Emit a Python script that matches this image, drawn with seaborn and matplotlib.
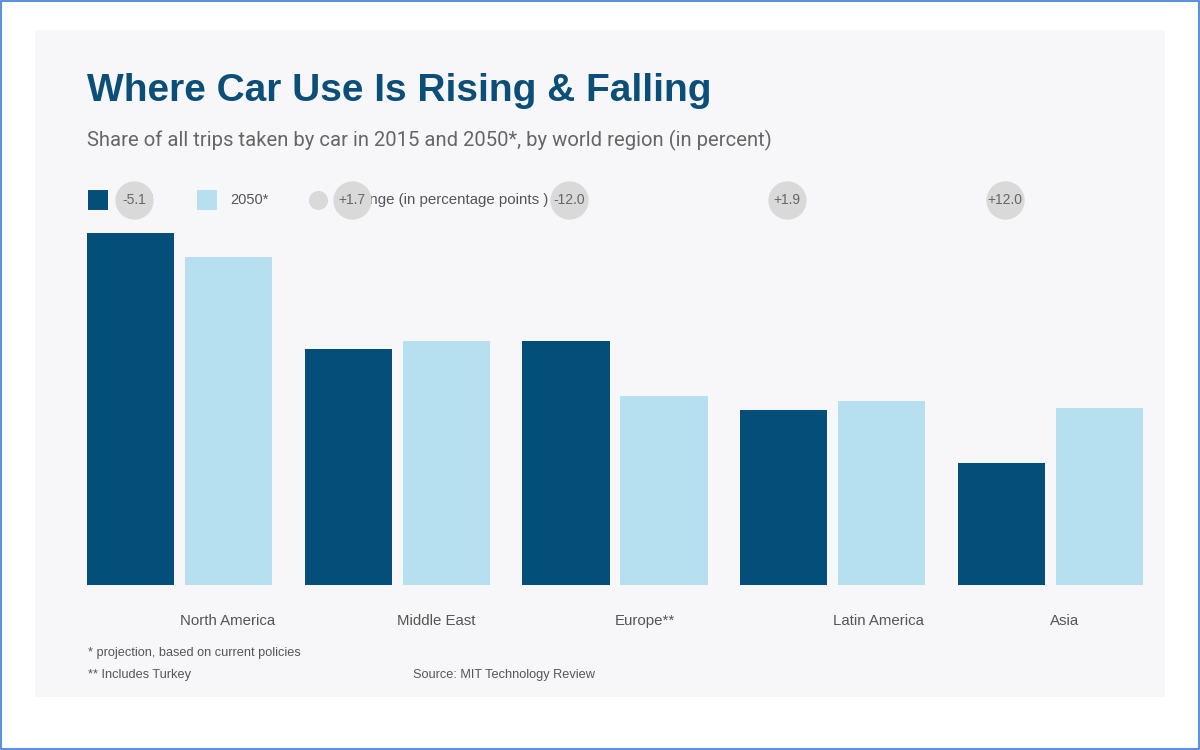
import matplotlib
matplotlib.use("Agg")
import matplotlib.pyplot as plt
from matplotlib.patches import Rectangle
import seaborn as sns
import pandas as pd

# ---- data ----
regions = ["North America", "Middle East", "Europe**", "Latin America", "Asia"]
share_2015 = [76.5, 51.3, 53.0, 38.0, 26.5]
share_2050 = [71.4, 53.0, 41.0, 39.9, 38.5]
change_labels = ["-5.1", "+1.7", "-12.0", "+1.9", "+12.0"]
years = ["2015", "2050*"]

DARK = "#044f7a"
LIGHT = "#b6dff0"
BUBBLE = "#d9d9d9"
PANEL = "#f7f7f9"

df = pd.DataFrame({
    "region": regions * 2,
    "year": [years[0]] * len(regions) + [years[1]] * len(regions),
    "share": share_2015 + share_2050,
})

sns.set_theme(style="white")
plt.rcParams["font.family"] = ["Liberation Sans", "DejaVu Sans"]

fig = plt.figure(figsize=(12, 7.5), dpi=100)
fig.patch.set_facecolor("white")
# outer border and panel
fig.patches.append(Rectangle((0.0005, 0.0008), 0.999, 0.998, transform=fig.transFigure,
                             fill=False, edgecolor="#3b7dd8", linewidth=1.2, zorder=0))
fig.patches.append(Rectangle((35 / 1200, 1 - 697 / 750), 1130 / 1200, 667 / 750,
                             transform=fig.transFigure, facecolor=PANEL,
                             edgecolor="none", zorder=-1))

ax = fig.add_axes([87 / 1200, 0.22, 1056 / 1200, 368 / 750])
ax.set_facecolor(PANEL)
ax.patch.set_alpha(0)

sns.barplot(data=df, x="region", y="share", hue="year", order=regions,
            hue_order=years, palette=[DARK, LIGHT], width=0.9, gap=0.11,
            legend=False, ax=ax, saturation=1, linewidth=0, edgecolor="none")

ax.set_xlim(-0.425, 4.425)
ax.set_ylim(0, 80)
sns.despine(ax=ax, left=True, bottom=True)
ax.set_yticks([])
ax.set_xlabel("")
ax.set_ylabel("")
ax.set_xticks(range(len(regions)))
ax.set_xticklabels(regions, ha="left", fontsize=10.8, color="#555555")
ax.tick_params(axis="x", length=0, pad=21)

# change bubbles above the groups
xt = ax.get_xaxis_transform()
for i, lab in enumerate(change_labels):
    ax.scatter([i - 0.21], [1.046], s=760, color=BUBBLE, transform=xt,
               clip_on=False, zorder=10, linewidths=0)
    ax.text(i - 0.21, 1.046, lab, transform=xt, ha="center", va="center",
            fontsize=10, color="#666666", zorder=11, clip_on=False)

# legend (drawn underneath the bubbles)
ft = fig.transFigure
ax.add_patch(Rectangle((88 / 1200, 1 - 210 / 750), 20 / 1200, 20 / 750, transform=ft,
                       facecolor=DARK, edgecolor="none", clip_on=False, zorder=5))
ax.text(121 / 1200, 1 - 200 / 750, "2015", transform=ft, ha="left", va="center",
        fontsize=10.5, color="#555555", zorder=5, clip_on=False)
ax.add_patch(Rectangle((197 / 1200, 1 - 210 / 750), 20 / 1200, 20 / 750, transform=ft,
                       facecolor=LIGHT, edgecolor="none", clip_on=False, zorder=5))
ax.text(230 / 1200, 1 - 200 / 750, "2050*", transform=ft, ha="left", va="center",
        fontsize=10.5, color="#555555", zorder=5, clip_on=False)
ax.scatter([318 / 1200], [1 - 200 / 750], s=190, color=BUBBLE, transform=ft,
           clip_on=False, zorder=5, linewidths=0)
ax.text(342 / 1200, 1 - 200 / 750, "Change (in percentage points )", transform=ft,
        ha="left", va="center", fontsize=10.8, color="#555555", zorder=5, clip_on=False)

# titles
fig.text(87 / 1200, 1 - 91 / 750, "Where Car Use Is Rising & Falling", ha="left",
         va="center", fontsize=28, fontweight="bold", color="#0b4f78")
fig.text(87 / 1200, 1 - 140 / 750,
         "Share of all trips taken by car in 2015 and 2050*, by world region (in percent)",
         ha="left", va="center", fontsize=14.6, color="#666666",
         family=["Roboto", "DejaVu Sans"])

# footnotes
fig.text(88 / 1200, 1 - 653 / 750, "* projection, based on current policies",
         ha="left", va="center", fontsize=9.2, color="#555555")
fig.text(88 / 1200, 1 - 675 / 750, "** Includes Turkey",
         ha="left", va="center", fontsize=9.2, color="#555555")
fig.text(413 / 1200, 1 - 675 / 750, "Source: MIT Technology Review",
         ha="left", va="center", fontsize=9.2, color="#555555")

fig.savefig("out.png", dpi=100, facecolor="white")
